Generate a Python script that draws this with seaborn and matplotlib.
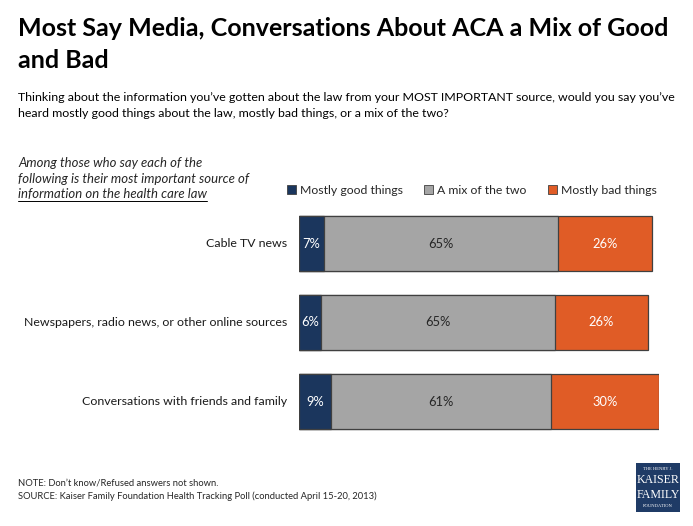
import matplotlib
matplotlib.use("Agg")
import matplotlib.pyplot as plt
import seaborn as sns
import pandas as pd
import numpy as np
from matplotlib.patches import Patch, Rectangle

categories = ["Cable TV news",
              "Newspapers, radio news, or other online sources",
              "Conversations with friends and family"]
series_names = ["Mostly good things", "A mix of the two", "Mostly bad things"]
good = [7, 6, 9]
mix = [65, 65, 61]
bad = [26, 26, 30]

colors = ["#1B365D", "#A5A5A5", "#E05C26"]
label_colors = ["white", "#262626", "white"]
edge = "#404040"

sns.set_theme(style="white")
FONT = ["Lato", "DejaVu Sans"]
plt.rcParams["font.family"] = FONT

W, H = 693, 526
fig = plt.figure(figsize=(W / 100, H / 100), dpi=100)
fig.patch.set_facecolor("white")

def fx(x):
    return x / W

def fy(y):
    return 1 - y / H

# axes: x 0..100 -> px 299..659 ; rows centered at 244, 322.5, 401.5
ax = fig.add_axes([fx(299), fy(441), 360 / W, (441 - 204) / H])

df = pd.DataFrame({"category": categories, "good": good, "mix": mix, "bad": bad})
df["c1"] = df["good"]
df["c2"] = df["good"] + df["mix"]
df["c3"] = df["good"] + df["mix"] + df["bad"]

for col, c in zip(["c3", "c2", "c1"], colors[::-1]):
    sns.barplot(data=df, y="category", x=col, orient="h", color=c,
                saturation=1, width=0.7, edgecolor=edge, linewidth=0.9,
                ax=ax, order=categories)

ax.set_xlim(0, 100)
ax.set_ylim(2.5, -0.5)
ax.set_xlabel("")
ax.set_ylabel("")
ax.set_xticks([])
ax.set_yticks([])
for s in ax.spines.values():
    s.set_visible(False)

# value labels
vals = np.array([good, mix, bad]).T
for i, row in enumerate(vals):
    left = 0
    for j, v in enumerate(row):
        ax.text(left + v / 2, i, f"{v}%", ha="center", va="center",
                color=label_colors[j], fontsize=9.3)
        left += v

# category labels
cat_texts = []
for i, cat in enumerate(categories):
    t = ax.text(-3.2, i, cat, ha="right", va="center", fontsize=9.3,
                color="#1a1a1a")
    cat_texts.append(t)

# title
t1 = fig.text(fx(18), fy(36), "Most Say Media, Conversations About ACA a Mix of Good",
              fontsize=17, fontweight="bold", color="black", va="baseline")
t2 = fig.text(fx(18), fy(68), "and Bad", fontsize=17, fontweight="bold",
              color="black", va="baseline")

s1 = fig.text(fx(18), fy(101),
              "Thinking about the information you\u2019ve gotten about the law from your MOST IMPORTANT source, would you say you\u2019ve",
              fontsize=8.6, color="black", va="baseline")
s2 = fig.text(fx(18), fy(117),
              "heard mostly good things about the law, mostly bad things, or a mix of the two?",
              fontsize=8.6, color="black", va="baseline")

i1 = fig.text(fx(18), fy(167), "Among those who say each of the", fontsize=8.6,
              style="italic", va="baseline")
i2 = fig.text(fx(18), fy(183), "following is their most important source of",
              fontsize=8.6, style="italic", va="baseline")
i3 = fig.text(fx(18), fy(198), "information on the health care law",
              fontsize=8.6, style="italic", va="baseline")

n1 = fig.text(fx(18), fy(485), "NOTE: Don\u2019t know/Refused answers not shown.",
              fontsize=7, va="baseline")
n2 = fig.text(fx(18), fy(499),
              "SOURCE: Kaiser Family Foundation Health Tracking Poll (conducted April 15-20, 2013)",
              fontsize=7, va="baseline")

# legend
handles = [Patch(facecolor=c, edgecolor=edge, linewidth=0.6, label=n)
           for c, n in zip(colors, series_names)]
leg = fig.legend(handles=handles, loc="center", ncol=3,
                 bbox_to_anchor=(fx(472), fy(190)), frameon=False,
                 fontsize=8.8, handlelength=0.7, handleheight=0.7,
                 handletextpad=0.35, columnspacing=1.75, borderaxespad=0)

# fit text widths
fig.canvas.draw()
r = fig.canvas.get_renderer()

def fit(texts, ref, target):
    w = ref.get_window_extent(r).width
    sz = ref.get_fontsize() * target / w
    for t in texts:
        t.set_fontsize(sz)
    return sz

fit([t1, t2], t1, 649)
fit([s1, s2], s1, 654)
fit([i1, i2, i3], i2, 228)
fit([n1, n2], n2, 360)
fit(cat_texts, cat_texts[1], 262)

fig.canvas.draw()
# underline third italic line
bb = i3.get_window_extent(r)
fig.add_artist(plt.Line2D([bb.x0 / W, bb.x1 / W], [fy(201), fy(201)],
                          color="black", linewidth=0.7))

# logo
fig.add_artist(Rectangle((fx(636), fy(512)), 44 / W, 49 / H,
                         facecolor="#1F3B66", edgecolor="none"))
serif = ["Liberation Serif", "DejaVu Serif"]
fig.text(fx(658), fy(469), "THE HENRY J.", family=serif, fontsize=3.3,
         color="white", ha="center", va="center")
fig.text(fx(658), fy(480), "KAISER", family=serif, fontsize=8.6, color="white",
         ha="center", va="center")
fig.text(fx(658), fy(495), "FAMILY", family=serif, fontsize=8.6, color="white",
         ha="center", va="center")
fig.text(fx(658), fy(506), "FOUNDATION", family=serif, fontsize=3.3,
         color="white", ha="center", va="center")

fig.savefig("out.png", dpi=100, facecolor="white")
